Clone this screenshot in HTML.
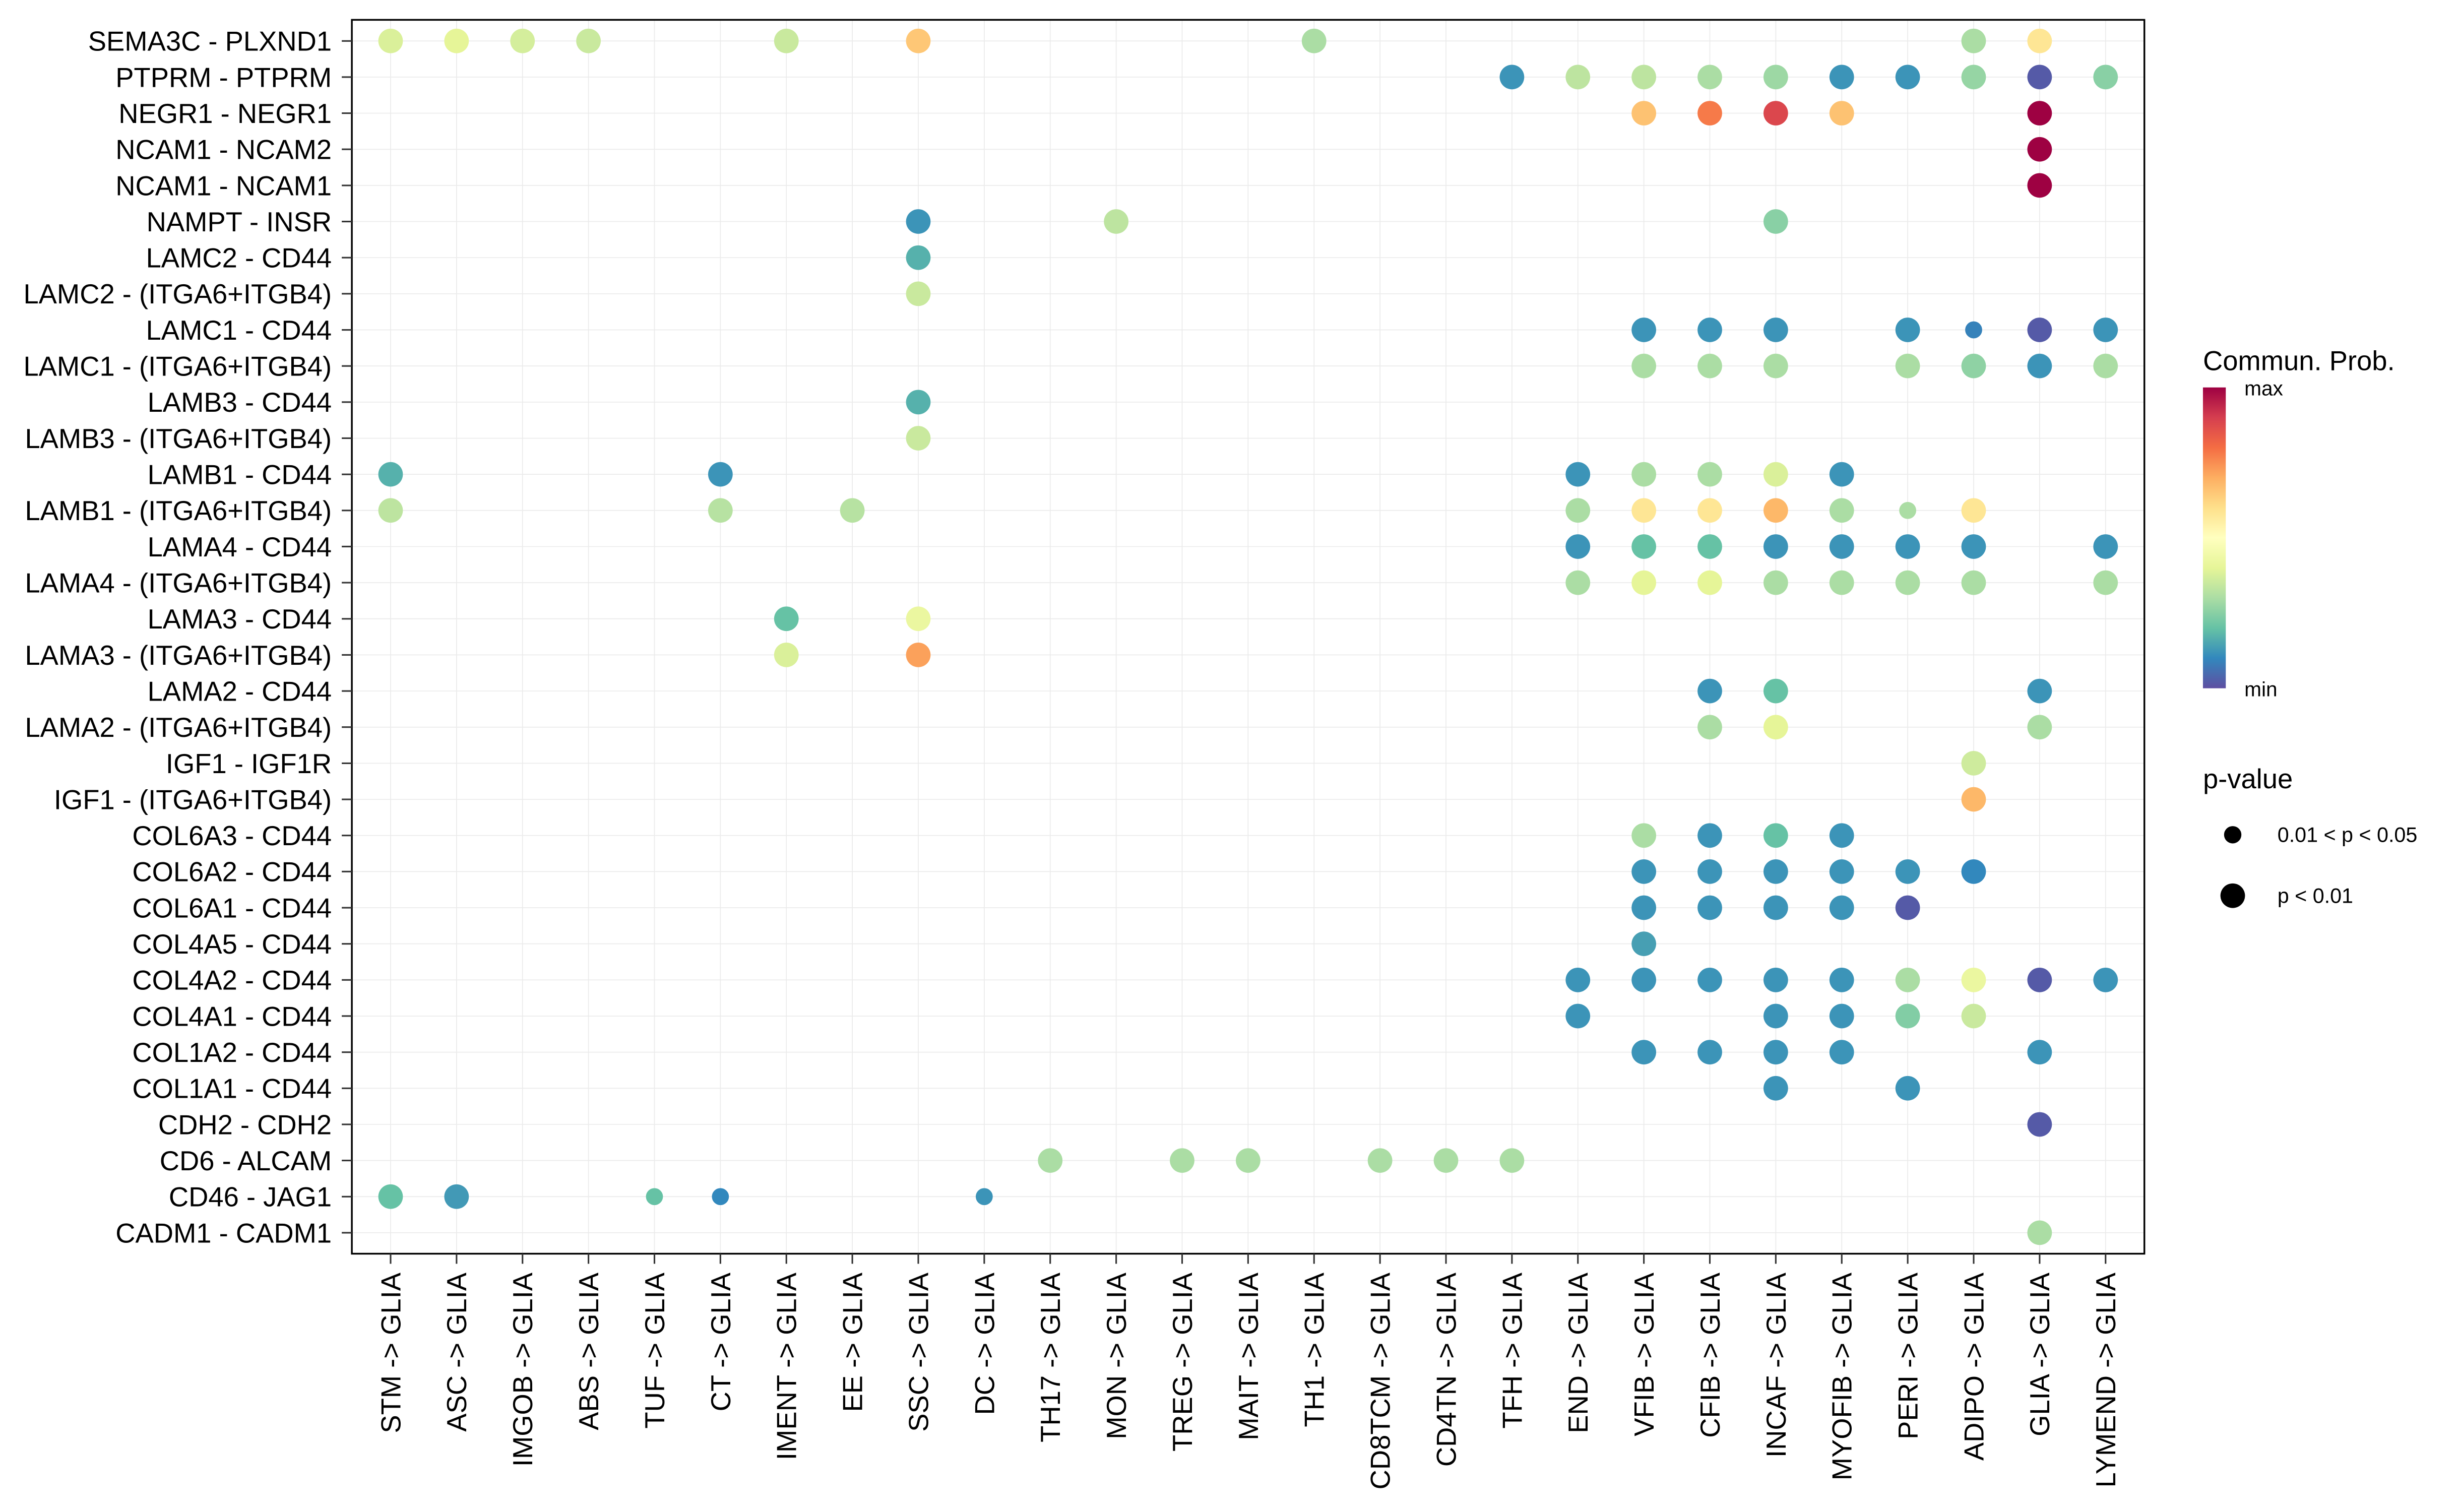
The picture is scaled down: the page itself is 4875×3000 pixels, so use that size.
<!DOCTYPE html>
<html><head><meta charset="utf-8"><style>
html,body{margin:0;padding:0;background:#fff;}
svg{display:block;font-family:"Liberation Sans",sans-serif;}
</style></head><body>
<svg id="chart" width="4875" height="3000" viewBox="0 0 1560 960" xmlns="http://www.w3.org/2000/svg">
<defs>
<linearGradient id="spec" x1="0" y1="1" x2="0" y2="0">
<stop offset="0" stop-color="#5E4FA2"/><stop offset="0.1" stop-color="#3288BD"/><stop offset="0.2" stop-color="#66C2A5"/><stop offset="0.3" stop-color="#ABDDA4"/><stop offset="0.4" stop-color="#E6F598"/><stop offset="0.5" stop-color="#FFFFBF"/><stop offset="0.6" stop-color="#FEE08B"/><stop offset="0.7" stop-color="#FDAE61"/><stop offset="0.8" stop-color="#F46D43"/><stop offset="0.9" stop-color="#D53E4F"/><stop offset="1" stop-color="#9E0142"/>
</linearGradient>
</defs>
<g id="grid"></g>
<g id="dots"></g>
<rect x="223.4" y="12.6" width="1138.1" height="783.4" fill="none" stroke="#000" stroke-width="1.1"/>
<g id="yaxis"></g>
<g id="xaxis"></g>
<g>
<text x="1398.7" y="235" font-size="17.4">Commun. Prob.</text>
<rect x="1398.7" y="246" width="14.5" height="191" fill="url(#spec)"/>
<text x="1425" y="251" font-size="13">max</text>
<text x="1425" y="442" font-size="13">min</text>
</g>
<g>
<text x="1398.7" y="500.5" font-size="17.4">p-value</text>
<circle cx="1417.6" cy="530" r="5.5" fill="#000"/>
<text x="1446" y="534.6" font-size="13.2">0.01 &lt; p &lt; 0.05</text>
<circle cx="1417.6" cy="568.7" r="7.8" fill="#000"/>
<text x="1446" y="573.3" font-size="13.2">p &lt; 0.01</text>
</g>
</svg>
<script>
const sources = ["STM","ASC","IMGOB","ABS","TUF","CT","IMENT","EE","SSC","DC","TH17","MON","TREG","MAIT","TH1","CD8TCM","CD4TN","TFH","END","VFIB","CFIB","INCAF","MYOFIB","PERI","ADIPO","GLIA","LYMEND"];
const pairs = ["SEMA3C - PLXND1","PTPRM - PTPRM","NEGR1 - NEGR1","NCAM1 - NCAM2","NCAM1 - NCAM1","NAMPT - INSR","LAMC2 - CD44","LAMC2 - (ITGA6+ITGB4)","LAMC1 - CD44","LAMC1 - (ITGA6+ITGB4)","LAMB3 - CD44","LAMB3 - (ITGA6+ITGB4)","LAMB1 - CD44","LAMB1 - (ITGA6+ITGB4)","LAMA4 - CD44","LAMA4 - (ITGA6+ITGB4)","LAMA3 - CD44","LAMA3 - (ITGA6+ITGB4)","LAMA2 - CD44","LAMA2 - (ITGA6+ITGB4)","IGF1 - IGF1R","IGF1 - (ITGA6+ITGB4)","COL6A3 - CD44","COL6A2 - CD44","COL6A1 - CD44","COL4A5 - CD44","COL4A2 - CD44","COL4A1 - CD44","COL1A2 - CD44","COL1A1 - CD44","CDH2 - CDH2","CD6 - ALCAM","CD46 - JAG1","CADM1 - CADM1"];
// each entry: [pair index, source index]
const dotPair = [0,0,0,0,0,0,0,0,0, 1,1,1,1,1,1,1,1,1,1, 2,2,2,2,2, 3,4, 5,5,5, 6,7, 8,8,8,8,8,8,8, 9,9,9,9,9,9,9, 10,11, 12,12,12,12,12,12,12, 13,13,13,13,13,13,13,13,13,13, 14,14,14,14,14,14,14,14, 15,15,15,15,15,15,15,15, 16,16,17,17, 18,18,18, 19,19,19, 20,21, 22,22,22,22, 23,23,23,23,23,23, 24,24,24,24,24, 25, 26,26,26,26,26,26,26,26,26, 27,27,27,27,27, 28,28,28,28,28, 29,29, 30, 31,31,31,31,31,31, 32,32,32,32,32, 33];
const dotSource = [0,1,2,3,6,8,14,24,25, 17,18,19,20,21,22,23,24,25,26, 19,20,21,22,25, 25,25, 8,11,21, 8,8, 19,20,21,23,24,25,26, 19,20,21,23,24,25,26, 8,8, 0,5,18,19,20,21,22, 0,5,7,18,19,20,21,22,23,24, 18,19,20,21,22,23,24,26, 18,19,20,21,22,23,24,26, 6,8,6,8, 20,21,25, 20,21,25, 24,24, 19,20,21,22, 19,20,21,22,23,24, 19,20,21,22,23, 19, 18,19,20,21,22,23,24,25,26, 18,21,22,23,24, 19,20,21,22,25, 21,23, 25, 10,12,13,15,16,17, 0,1,4,5,9, 25];
const dotProb = [0.38,0.4,0.37,0.35,0.35,0.65,0.3,0.3,0.58, 0.12,0.33,0.33,0.3,0.28,0.12,0.12,0.27,0.02,0.25, 0.66,0.78,0.88,0.66,1.0, 1.0,1.0, 0.12,0.33,0.25, 0.17,0.35, 0.12,0.12,0.12,0.12,0.09,0.02,0.12, 0.3,0.3,0.3,0.3,0.26,0.12,0.3, 0.17,0.35, 0.17,0.12,0.12,0.3,0.3,0.38,0.12, 0.33,0.32,0.32,0.3,0.58,0.58,0.68,0.3,0.3,0.58, 0.12,0.2,0.2,0.12,0.12,0.12,0.12,0.12, 0.3,0.4,0.4,0.3,0.3,0.3,0.3,0.3, 0.2,0.42,0.38,0.72, 0.12,0.2,0.12, 0.3,0.4,0.3, 0.36,0.68, 0.3,0.12,0.2,0.12, 0.12,0.12,0.12,0.12,0.12,0.1, 0.12,0.12,0.12,0.12,0.02, 0.14, 0.12,0.12,0.12,0.12,0.12,0.3,0.42,0.02,0.12, 0.12,0.12,0.12,0.24,0.35, 0.12,0.12,0.12,0.12,0.12, 0.12,0.12, 0.02, 0.3,0.3,0.3,0.3,0.3,0.3, 0.2,0.13,0.2,0.1,0.12, 0.3];
// 1 = 0.01<p<0.05 (small), 2 = p<0.01 (large)
const dotPval = [2,2,2,2,2,2,2,2,2, 2,2,2,2,2,2,2,2,2,2, 2,2,2,2,2, 2,2, 2,2,2, 2,2, 2,2,2,2,1,2,2, 2,2,2,2,2,2,2, 2,2, 2,2,2,2,2,2,2, 2,2,2,2,2,2,2,2,1,2, 2,2,2,2,2,2,2,2, 2,2,2,2,2,2,2,2, 2,2,2,2, 2,2,2, 2,2,2, 2,2, 2,2,2,2, 2,2,2,2,2,2, 2,2,2,2,2, 2, 2,2,2,2,2,2,2,2,2, 2,2,2,2,2, 2,2,2,2,2, 2,2, 2, 2,2,2,2,2,2, 2,2,1,1,1, 2];

const NS="http://www.w3.org/2000/svg";
const X0=248, DX=41.88, Y0=26, DY=22.93;
function xPos(i){return X0+i*DX;}
function yPos(i){return Y0+i*DY;}
const stops=[[94,79,162],[50,136,189],[102,194,165],[171,221,164],[230,245,152],[255,255,191],[254,224,139],[253,174,97],[244,109,67],[213,62,79],[158,1,66]];
function color(v){v=Math.max(0,Math.min(1,v))*10;const i=Math.min(9,Math.floor(v)),t=v-i;const a=stops[i],b=stops[i+1];return 'rgb('+a.map((c,k)=>Math.round(c+(b[k]-c)*t)).join(',')+')';}
function mk(tag,attrs,parent){const e=document.createElementNS(NS,tag);for(const k in attrs)e.setAttribute(k,attrs[k]);parent.appendChild(e);return e;}
const grid=document.getElementById('grid'),dots=document.getElementById('dots'),ya=document.getElementById('yaxis'),xa=document.getElementById('xaxis');
sources.forEach((s,i)=>{
  const l=mk('line',{x1:xPos(i),x2:xPos(i),y1:12.6,y2:796,stroke:'#ebebeb','stroke-width':0.55},grid);
  
  
  const t=mk('line',{x1:xPos(i),x2:xPos(i),y1:796,y2:802.4,stroke:'#333','stroke-width':1},xa);
  
  
  const tx=mk('text',{x:0,y:0,'font-size':17.4,'text-anchor':'end',transform:'translate('+(xPos(i)+6.2)+',808) rotate(-90)'},xa);
  tx.textContent=s+' -> GLIA';
  
  
});
pairs.forEach((p,i)=>{
  const l=mk('line',{x1:223.4,x2:1361.5,y1:yPos(i),y2:yPos(i),stroke:'#ebebeb','stroke-width':0.55},grid);
  
  
  const t=mk('line',{x1:217,x2:223.4,y1:yPos(i),y2:yPos(i),stroke:'#333','stroke-width':1},ya);
  
  
  const tx=mk('text',{x:210.6,y:yPos(i)+6.2,'font-size':17.4,'text-anchor':'end'},ya);
  tx.textContent=p;
  
  
});
for(let k=0;k<dotPair.length;k++){
  const c=mk('circle',{cx:xPos(dotSource[k]),cy:yPos(dotPair[k]),r:dotPval[k]===2?7.8:5.4,fill:color(dotProb[k])},dots);
  
  
}
</script>
</body></html>
